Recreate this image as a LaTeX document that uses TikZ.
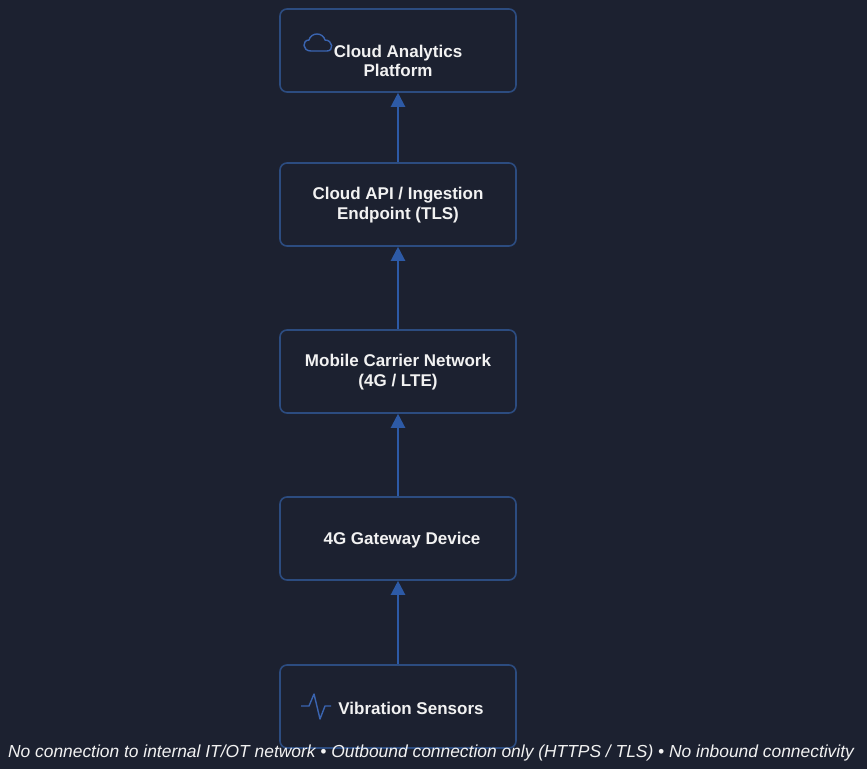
\documentclass[tikz,border=0pt]{standalone}
\usepackage{fontspec}
\setmainfont{Liberation Sans}
\usetikzlibrary{arrows.meta}
\definecolor{bg}{HTML}{1C2130}
\definecolor{bd}{HTML}{2C4C80}
\definecolor{ar}{HTML}{2D5AA6}
\definecolor{tx}{HTML}{F2F2F2}
\definecolor{ic}{HTML}{3A64B0}
\begin{document}
\begin{tikzpicture}[x=1pt,y=-1pt,
  box/.style={draw=bd,line width=1.6pt,rounded corners=7pt,minimum width=236pt,minimum height=83pt,inner sep=0pt},
  lbl/.style={text=tx,font=\bfseries\fontsize{17}{19.5}\selectfont,align=center},
  arr/.style={draw=ar,line width=2.2pt,-{Triangle[length=14pt,width=14pt]}},
  icon/.style={draw=ic,line width=1.4pt}]
\fill[bg] (0,0) rectangle (867,769);
\useasboundingbox (0,0) rectangle (867,769);
\node[box] (b1) at (398,50.5) {};
\node[box] (b2) at (398,204.5) {};
\node[box] (b3) at (398,371.5) {};
\node[box] (b4) at (398,538.5) {};
\node[box] (b5) at (398,706.5) {};
\node[lbl] (t1) at (398,61) {Cloud Analytics\\Platform};
\node[lbl] (t2) at (398,205) {Cloud API / Ingestion\\Endpoint (TLS)};
\node[lbl] (t3) at (398,372) {Mobile Carrier Network\\(4G / LTE)};
\node[lbl] (t4) at (402,540) {4G Gateway Device};
\node[lbl] (t5) at (411,708) {Vibration Sensors};
\draw[arr] (b5) -- (b4);
\draw[arr] (b4) -- (b3);
\draw[arr] (b3) -- (b2);
\draw[arr] (b2) -- (b1);
\draw[icon,line join=round] (311,51) .. controls (302,51) and (302,40) .. (309,40)
  .. controls (311,32) and (323,32) .. (325,40)
  .. controls (333,40) and (334,51) .. (327,51) -- cycle;
\draw[icon,line join=round] (301,706) -- (309,706) -- (314,694) -- (320,719) -- (325,706) -- (331,706);
\node[text=tx,font=\itshape\fontsize{17.4}{20}\selectfont] (foot) at (431,753) {No connection to internal IT/OT network • Outbound connection only (HTTPS / TLS) • No inbound connectivity};
\end{tikzpicture}
\end{document}
